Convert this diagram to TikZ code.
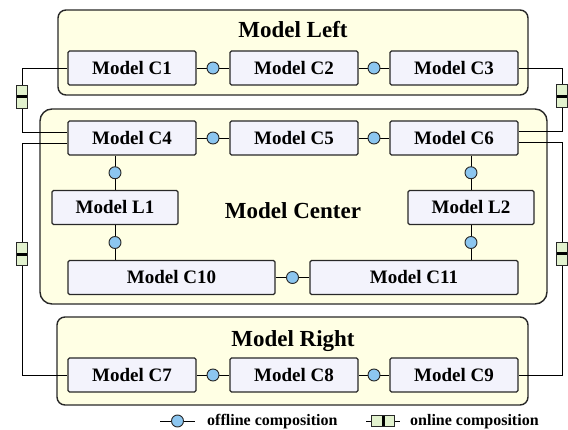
\documentclass[tikz,border=0pt]{standalone}
\usepackage{fontspec}
\setmainfont{Liberation Serif}
\usetikzlibrary{calc}
\definecolor{contfill}{RGB}{255,255,228}
\definecolor{nodefill}{RGB}{243,243,252}
\definecolor{dotfill}{RGB}{140,198,240}
\definecolor{onfill}{RGB}{226,242,206}
\definecolor{edgecol}{RGB}{40,40,40}
\begin{document}
\begin{tikzpicture}[x=1pt,y=-1pt,
 container/.style={draw=edgecol, line width=1.4pt, fill=contfill, rounded corners=8pt},
 mbox/.style={draw=edgecol, line width=1.1pt, fill=nodefill, rounded corners=1.5pt, minimum height=34pt, inner sep=0pt, font=\fontsize{19}{21}\selectfont\bfseries},
 ttl/.style={font=\fontsize{23}{25}\selectfont\bfseries, anchor=base, inner sep=0pt},
 lgtext/.style={font=\fontsize{16}{18}\selectfont\bfseries, anchor=west, inner sep=0pt},
 conn/.style={draw=black, line width=0.9pt},
 dot/.style={circle, draw=edgecol, line width=0.9pt, fill=dotfill, minimum size=12pt, inner sep=0pt},
 onlv/.style={rectangle, draw=edgecol, line width=0.9pt, fill=onfill, minimum width=11pt, minimum height=23pt, inner sep=0pt,
   path picture={\fill[black] ([yshift=-1.5pt]path picture bounding box.west) rectangle ([yshift=1.5pt]path picture bounding box.east);}},
 onlh/.style={rectangle, draw=edgecol, line width=0.9pt, fill=onfill, minimum width=23pt, minimum height=11pt, inner sep=0pt,
   path picture={\fill[black] ([xshift=-1.5pt]path picture bounding box.north) rectangle ([xshift=1.5pt]path picture bounding box.south);}}
]
\useasboundingbox (0,0) rectangle (568,430);
\fill[white] (0,0) rectangle (568,430);

% containers
\draw[container] (58,10) rectangle (528,95);
\draw[container, rounded corners=12pt] (40,109) rectangle (547,304);
\draw[container] (57,317) rectangle (528,405);

\node[ttl] (tleft) at (293,38) {Model Left};
\node[ttl] (tcenter) at (293,219) {Model Center};
\node[ttl] (tright) at (293,347) {Model Right};

% model boxes
\node[mbox, minimum width=128pt] (c1) at (132,68) {Model C1};
\node[mbox, minimum width=128pt] (c2) at (294,68) {Model C2};
\node[mbox, minimum width=128pt] (c3) at (454,68) {Model C3};
\node[mbox, minimum width=128pt] (c4) at (132,138) {Model C4};
\node[mbox, minimum width=128pt] (c5) at (294,138) {Model C5};
\node[mbox, minimum width=128pt] (c6) at (454,138) {Model C6};
\node[mbox, minimum width=126pt] (l1) at (115,207.5) {Model L1};
\node[mbox, minimum width=126pt] (l2) at (471,207.5) {Model L2};
\node[mbox, minimum width=207pt] (c10) at (171.5,277.5) {Model C10};
\node[mbox, minimum width=208pt] (c11) at (414,277.5) {Model C11};
\node[mbox, minimum width=128pt] (c7) at (132,375) {Model C7};
\node[mbox, minimum width=128pt] (c8) at (294,375) {Model C8};
\node[mbox, minimum width=128pt] (c9) at (454,375) {Model C9};

% offline compositions
\draw[conn] (c1) -- node[dot] (d12) {} (c2);
\draw[conn] (c2) -- node[dot] (d23) {} (c3);
\draw[conn] (c4) -- node[dot] (d45) {} (c5);
\draw[conn] (c5) -- node[dot] (d56) {} (c6);
\draw[conn] (c7) -- node[dot] (d78) {} (c8);
\draw[conn] (c8) -- node[dot] (d89) {} (c9);
\draw[conn] (c10) -- node[dot] (d1011) {} (c11);
\draw[conn] (c4.south -| l1.north) -- node[dot] (d4l1) {} (l1.north);
\draw[conn] (l1.south) -- node[dot] (dl110) {} (l1.south |- c10.north);
\draw[conn] (c6.south -| l2.north) -- node[dot] (d6l2) {} (l2.north);
\draw[conn] (l2.south) -- node[dot] (dl211) {} (l2.south |- c11.north);

% online compositions
\coordinate (lx) at (22,0);
\coordinate (rx) at (562,0);
\draw[conn] (c1.west) -- (c1.west -| lx) -- node[onlv, pos=0.45] (o14) {} ([yshift=6pt]c4.west -| lx) -- ([yshift=6pt]c4.west);
\draw[conn] ([yshift=-5pt]c4.west) -- ([yshift=-5pt]c4.west -| lx) -- node[onlv, pos=0.48] (o47) {} (c7.west -| lx) -- (c7.west);
\draw[conn] (c3.east) -- (c3.east -| rx) -- node[onlv, pos=0.45] (o36) {} ([yshift=7pt]c6.east -| rx) -- ([yshift=7pt]c6.east);
\draw[conn] ([yshift=-4pt]c6.east) -- ([yshift=-4pt]c6.east -| rx) -- node[onlv, pos=0.48] (o69) {} (c9.east -| rx) -- (c9.east);

% legend
\coordinate (lga) at (160,421);
\coordinate (lgb) at (195,421);
\draw[conn] (lga) -- node[dot] (lgdot) {} (lgb);
\node[lgtext] (lgoff) at (207,422) {offline composition};
\coordinate (lgc) at (366,421);
\coordinate (lgd) at (400,421);
\draw[conn] (lgc) -- node[onlh] (lgon) {} (lgd);
\node[lgtext] (lgonl) at (410,422) {online composition};
\end{tikzpicture}
\end{document}
